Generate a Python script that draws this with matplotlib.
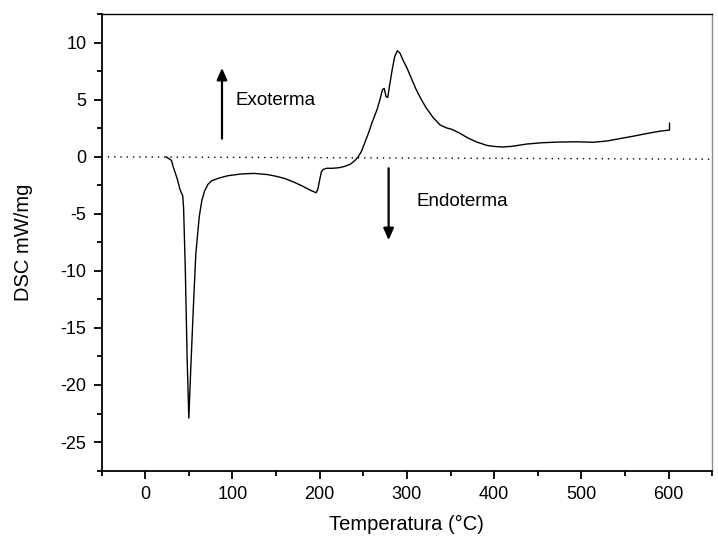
"""DSC trace with exo/endo direction markers."""

import matplotlib

matplotlib.use("Agg")
import matplotlib.pyplot as plt
from matplotlib.ticker import MultipleLocator

plt.rcParams["font.family"] = ["Liberation Sans", "DejaVu Sans"]
plt.rcParams["axes.unicode_minus"] = False

# temperature (degC) and heat flow (mW/mg)
temperature = [
    24, 30, 32, 37, 40, 43, 44, 46, 48, 50, 52, 55, 58, 62, 65, 68, 72, 76,
    85, 95, 110, 125, 140, 150, 160, 170, 180, 190, 196, 198, 200, 202, 204,
    208, 215, 222, 228, 235, 240, 244, 248, 252, 256, 260, 263, 266, 269,
    272, 274, 276, 278, 280, 283, 286, 289, 292, 296, 300, 305, 310, 316,
    322, 330, 338, 345, 352, 360, 370, 380, 392, 402, 410, 420, 437, 455,
    475, 495, 514, 530, 544, 560, 575, 590, 601, 601,
]
dsc = [
    0.0, -0.3, -0.85, -2.0, -2.9, -3.4, -4.5, -10.0, -17.5, -22.9, -19.0,
    -13.5, -8.5, -5.2, -3.8, -3.0, -2.4, -2.1, -1.85, -1.65, -1.5, -1.45,
    -1.55, -1.7, -1.9, -2.2, -2.55, -2.95, -3.15, -2.8, -2.0, -1.3, -1.1,
    -1.0, -1.0, -0.95, -0.85, -0.65, -0.35, 0.0, 0.5, 1.3, 2.1, 3.0, 3.6,
    4.2, 5.0, 5.9, 6.0, 5.3, 5.2, 6.2, 7.6, 8.8, 9.3, 9.1, 8.4, 7.8, 6.9,
    6.0, 5.1, 4.3, 3.45, 2.8, 2.55, 2.4, 2.1, 1.65, 1.3, 1.0, 0.9, 0.87,
    0.92, 1.12, 1.24, 1.3, 1.32, 1.28, 1.4, 1.6, 1.82, 2.05, 2.25, 2.35,
    2.95,
]

# baseline drawn across the whole plot
baseline_x = [-50, 650]
baseline_y = [0.0, -0.2]

fig = plt.figure(figsize=(7.18, 5.39), dpi=100)
ax = fig.add_axes([0.1415, 0.127, 0.8505, 0.8465])

ax.plot(baseline_x, baseline_y, color="black", linestyle=(0, (1, 3.5)), linewidth=1.0)
ax.plot(temperature, dsc, color="black", linewidth=1.0)

ax.annotate("", xy=(88, 7.8), xytext=(88, 1.6),
            arrowprops=dict(arrowstyle="-|>,head_length=0.5,head_width=0.22",
                            color="black", lw=1.6, mutation_scale=14,
                            shrinkA=0, shrinkB=0))
ax.text(103, 4.95, "Exoterma", fontsize=13.5, va="center", ha="left")

ax.annotate("", xy=(279, -7.3), xytext=(279, -1.0),
            arrowprops=dict(arrowstyle="-|>,head_length=0.5,head_width=0.22",
                            color="black", lw=1.6, mutation_scale=14,
                            shrinkA=0, shrinkB=0))
ax.text(311, -3.95, "Endoterma", fontsize=13.5, va="center", ha="left")

ax.set_xlim(-50, 650)
ax.set_ylim(-27.5, 12.5)
ax.xaxis.set_major_locator(MultipleLocator(100))
ax.xaxis.set_minor_locator(MultipleLocator(50))
ax.yaxis.set_major_locator(MultipleLocator(5))
ax.yaxis.set_minor_locator(MultipleLocator(2.5))
ax.tick_params(which="major", direction="out", length=6, width=1.3,
               labelsize=13, pad=5)
ax.tick_params(which="minor", direction="out", length=3.5, width=1.3)
ax.tick_params(top=False, right=False)
for side in ("left", "bottom"):
    ax.spines[side].set_linewidth(1.3)
ax.spines["top"].set_linewidth(1.0)
ax.spines["right"].set_linewidth(1.0)
ax.spines["right"].set_color("0.55")

ax.set_xlabel("Temperatura (°C)", fontsize=14.5, labelpad=9)
ax.set_ylabel("DSC mW/mg", fontsize=14.5, labelpad=20)

fig.savefig("out.png", dpi=100)
